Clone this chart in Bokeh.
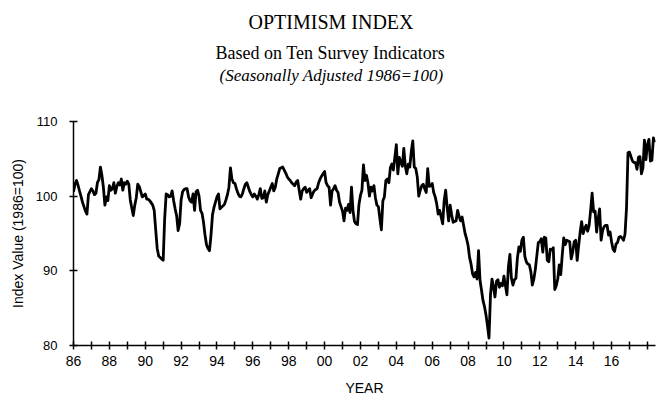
from bokeh.plotting import figure
from bokeh.models import Range1d, FixedTicker, Title, ColumnDataSource
from bokeh.embed import file_html
from bokeh.resources import INLINE

# Monthly index values (1986=100), Jan 1986 - Jun 2018
v1986 = [100.6, 101.6, 102.1, 101.5, 100.7, 100.0, 99.2, 98.6, 98.0, 97.6, 100.2, 100.6]
v1987 = [101.0, 100.7, 100.2, 100.4, 101.8, 102.2, 103.9, 102.8, 101.2, 98.8, 99.9, 99.4]
v1988 = [101.4, 100.8, 101.0, 101.8, 100.4, 101.3, 101.8, 101.5, 102.3, 100.8, 101.8, 101.6]
v1989 = [102.0, 101.6, 99.5, 98.4, 97.4, 98.8, 99.8, 101.6, 101.3, 100.6, 99.9, 100.1]
v1990 = [100.3, 99.6, 99.6, 99.4, 99.1, 98.8, 98.1, 95.5, 93.0, 92.0, 91.8, 91.6]
v1991 = [91.4, 97.0, 100.3, 100.2, 99.9, 100.0, 100.7, 99.4, 98.3, 97.4, 95.4, 96.3]
v1992 = [99.5, 100.6, 100.9, 101.0, 101.0, 99.9, 99.4, 99.2, 100.3, 98.1, 100.6, 100.8]
v1993 = [100.0, 98.1, 97.7, 96.5, 94.8, 93.5, 93.0, 92.7, 94.8, 97.5, 98.5, 99.2]
v1994 = [99.9, 100.3, 98.3, 98.5, 98.7, 98.9, 99.5, 100.2, 101.2, 103.8, 102.3, 101.8]
v1995 = [101.7, 101.0, 100.4, 100.0, 99.9, 100.3, 101.0, 101.6, 101.8, 101.2, 100.6, 100.2]
v1996 = [99.9, 100.3, 100.0, 99.6, 100.2, 101.0, 99.7, 99.8, 100.7, 99.2, 100.2, 100.7]
v1997 = [101.2, 101.7, 100.7, 101.2, 102.3, 103.0, 103.7, 103.8, 103.9, 103.5, 103.1, 102.6]
v1998 = [102.3, 102.1, 101.8, 101.6, 101.4, 101.9, 102.1, 100.8, 99.6, 100.7, 101.0, 101.2]
v1999 = [100.5, 100.8, 101.0, 99.8, 100.3, 100.7, 100.9, 101.0, 101.8, 102.3, 102.7, 103.0]
v2000 = [103.3, 101.8, 101.4, 101.2, 98.8, 100.7, 101.0, 101.4, 100.8, 100.5, 99.2, 98.6]
v2001 = [98.0, 96.7, 98.4, 98.1, 98.9, 97.8, 101.2, 98.1, 96.6, 96.3, 96.2, 98.9]
v2002 = [100.1, 100.8, 104.2, 102.1, 102.8, 101.8, 100.0, 101.2, 100.7, 101.4, 99.8, 98.8]
v2003 = [98.6, 97.0, 95.5, 99.4, 99.9, 102.1, 102.3, 101.8, 103.8, 104.3, 103.5, 105.2]
v2004 = [106.9, 103.0, 105.2, 104.5, 104.0, 106.4, 104.0, 103.0, 104.3, 103.9, 106.0, 107.4]
v2005 = [103.9, 103.7, 102.6, 100.0, 100.8, 101.4, 101.6, 101.0, 100.5, 103.7, 101.3, 101.4]
v2006 = [101.7, 100.5, 99.9, 99.0, 97.6, 98.1, 97.2, 96.3, 99.4, 100.8, 98.5, 96.7]
v2007 = [98.8, 97.5, 96.5, 96.6, 96.7, 98.1, 97.3, 96.7, 97.2, 96.1, 95.0, 94.3]
v2008 = [93.4, 91.8, 90.9, 89.6, 89.2, 89.8, 88.9, 92.7, 88.7, 87.4, 86.0, 85.2]
v2009 = [84.1, 82.6, 81.0, 86.8, 88.9, 87.9, 86.5, 88.6, 88.8, 87.8, 88.3, 88.0]
v2010 = [89.3, 88.0, 86.8, 90.6, 92.2, 89.0, 88.1, 88.8, 89.0, 91.7, 93.2, 92.6]
v2011 = [94.1, 94.5, 91.9, 91.2, 90.9, 90.8, 89.9, 88.1, 88.9, 90.2, 92.0, 93.8]
v2012 = [93.9, 94.3, 92.5, 94.5, 94.4, 91.4, 91.2, 92.9, 92.8, 93.1, 87.5, 88.0]
v2013 = [88.9, 90.8, 89.5, 92.1, 94.4, 93.5, 94.1, 94.0, 93.9, 91.6, 92.5, 93.9]
v2014 = [94.1, 91.4, 93.4, 95.2, 96.6, 95.0, 95.7, 96.1, 95.3, 96.1, 98.1, 100.4]
v2015 = [97.9, 98.0, 95.2, 96.9, 98.3, 94.1, 95.4, 95.9, 96.1, 96.1, 94.8, 95.2]
v2016 = [93.9, 92.9, 92.6, 93.6, 93.8, 94.5, 94.6, 94.4, 94.1, 94.9, 98.4, 105.8]
v2017 = [105.9, 105.3, 104.7, 104.5, 104.5, 103.6, 105.2, 105.3, 103.0, 103.8, 107.5, 104.9]
v2018 = [106.9, 107.6, 104.7, 104.8, 107.8, 107.2]

start_year = 1986
year_ticks = list(range(1986, 2019))
labeled_years = [1986, 1988, 1990, 1992, 1994, 1996, 1998, 2000, 2002, 2004, 2006, 2008, 2010, 2012, 2014, 2016]
tick_labels = ["86", "88", "90", "92", "94", "96", "98", "00", "02", "04", "06", "08", "10", "12", "14", "16"]
y_ticks = [80, 90, 100, 110]

title_text = "OPTIMISM INDEX"
subtitle_text = "Based on Ten Survey Indicators"
note_text = "(Seasonally Adjusted 1986=100)"

series = (v1986 + v1987 + v1988 + v1989 + v1990 + v1991 + v1992 + v1993 + v1994 + v1995 +
          v1996 + v1997 + v1998 + v1999 + v2000 + v2001 + v2002 + v2003 + v2004 + v2005 +
          v2006 + v2007 + v2008 + v2009 + v2010 + v2011 + v2012 + v2013 + v2014 + v2015 +
          v2016 + v2017 + v2018)
dates = [start_year + i / 12.0 for i in range(len(series))]
src = ColumnDataSource(data=dict(x=dates, y=series))

W, H = 657, 398
LEFT, RIGHT, TOP, BOTTOM = 73, 2, 121, 53

p = figure(width=W, height=H, output_backend="svg", toolbar_location=None,
           x_range=Range1d(1986, 2018.45), y_range=Range1d(80, 110),
           min_border_left=LEFT, min_border_right=RIGHT,
           min_border_top=TOP, min_border_bottom=BOTTOM)
p.outline_line_color = None
p.xgrid.grid_line_color = None
p.ygrid.grid_line_color = None
p.background_fill_color = "white"
p.border_fill_color = "white"

p.line("x", "y", source=src, line_color="black", line_width=2.8, line_join="round")

sans = "Liberation Sans"
serif = "Liberation Serif"

xa = p.xaxis[0]
xa.ticker = FixedTicker(ticks=year_ticks)
ov = {yr: "" for yr in year_ticks}
for yr, lab in zip(labeled_years, tick_labels):
    ov[yr] = lab
xa.major_label_overrides = ov
xa.axis_label = "YEAR"
ya = p.yaxis[0]
ya.ticker = FixedTicker(ticks=y_ticks)
ya.axis_label = "Index Value (1986=100)"

for ax in (xa, ya):
    ax.axis_line_color = "black"
    ax.axis_line_width = 1.5
    ax.major_tick_line_color = "black"
    ax.major_tick_line_width = 1.5
    ax.major_tick_in = 4
    ax.major_tick_out = 4
    ax.minor_tick_line_color = None
    ax.major_label_text_font = sans
    ax.major_label_text_color = "black"
    ax.axis_label_text_font = sans
    ax.axis_label_text_font_style = "normal"
    ax.axis_label_text_color = "black"
    ax.axis_label_text_font_size = "14px"
xa.major_label_text_font_size = "14px"
ya.major_label_text_font_size = "13px"
xa.major_label_standoff = 6
xa.axis_label_standoff = 11
ya.major_label_standoff = 12
ya.axis_label_standoff = 7

# titles stacked above the frame (first added is nearest the frame)
p.add_layout(Title(text=" ", text_font_size="1px", standoff=33), "above")
p.add_layout(Title(text=note_text, text_font=serif, text_font_style="italic",
                   text_font_size="17px", text_color="black", align="left",
                   offset=146, vertical_align="middle", standoff=0), "above")
p.add_layout(Title(text=subtitle_text, text_font=serif, text_font_style="normal",
                   text_font_size="18px", text_color="black", align="left",
                   offset=142, vertical_align="middle", standoff=1), "above")
p.add_layout(Title(text=title_text, text_font=serif, text_font_style="normal",
                   text_font_size="20px", text_color="black", align="left",
                   offset=175, vertical_align="middle", standoff=15), "above")

open("out.html", "w").write(file_html(p, INLINE))
